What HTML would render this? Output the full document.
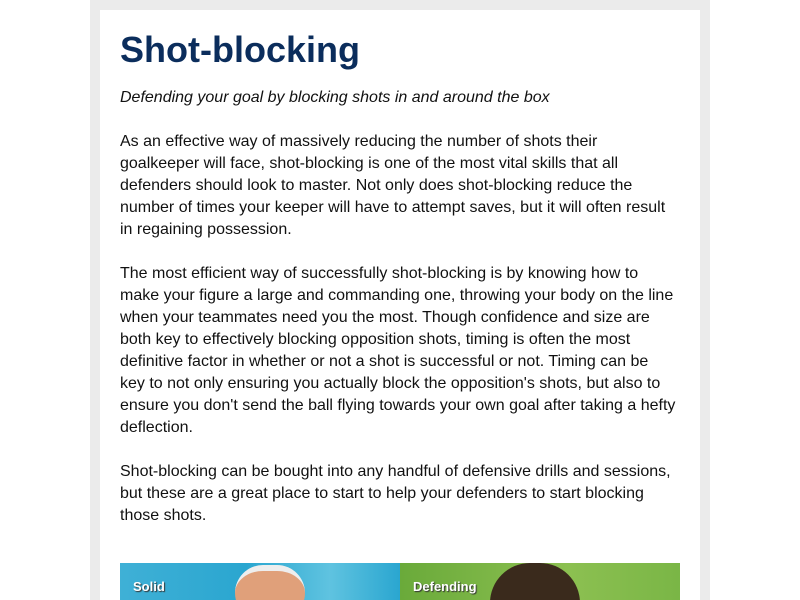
<!DOCTYPE html>
<html><head><meta charset="utf-8"><style>
body{margin:0;width:800px;height:600px;background:#fff;overflow:hidden;font-family:"Liberation Sans",Arial,sans-serif}
.frame{position:absolute;left:90px;top:0;width:620px;height:600px;background:#ebebeb}
.card{position:absolute;left:100px;top:10px;width:600px;height:590px;background:#fff}
h1{position:absolute;left:20px;top:19px;margin:0;font-size:36px;font-weight:bold;color:#0b2d5c;line-height:42px}
.sub{position:absolute;left:20px;top:77px;margin:0;font-size:16px;font-style:italic;color:#111;line-height:22px}
p.b{position:absolute;left:20px;width:556px;margin:0;font-size:16px;line-height:22px;color:#111}
.img{position:absolute;top:553px;height:37px;width:280px;overflow:hidden}
.img span{position:absolute;left:13px;top:16px;color:#fff;font-weight:bold;font-size:13px;text-shadow:1px 1px 1px #333}
</style></head><body>
<div class="frame"></div>
<div class="card">
<h1>Shot-blocking</h1>
<p class="sub">Defending your goal by blocking shots in and around the box</p>
<p class="b" style="top:121px">As an effective way of massively reducing the number of shots their goalkeeper will face, shot-blocking is one of the most vital skills that all defenders should look to master. Not only does shot-blocking reduce the number of times your keeper will have to attempt saves, but it will often result in regaining possession.</p>
<p class="b" style="top:253px">The most efficient way of successfully shot-blocking is by knowing how to make your figure a large and commanding one, throwing your body on the line when your teammates need you the most. Though confidence and size are both key to effectively blocking opposition shots, timing is often the most definitive factor in whether or not a shot is successful or not. Timing can be key to not only ensuring you actually block the opposition's shots, but also to ensure you don't send the ball flying towards your own goal after taking a hefty deflection.</p>
<p class="b" style="top:451px">Shot-blocking can be bought into any handful of defensive drills and sessions, but these are a great place to start to help your defenders to start blocking those shots.</p>
<div class="img" style="left:20px;background:linear-gradient(90deg,#3fb0d6,#2aa6d0 45%,#5fc3e0 75%,#2aa6d0)">
<div style="position:absolute;left:115px;top:2px;width:70px;height:50px;border-radius:35px;background:#e0a07a;border-top:6px solid #eee"></div>
<span>Solid</span></div>
<div class="img" style="left:300px;background:linear-gradient(90deg,#6aaa3a,#8cc051 60%,#7ab646)">
<div style="position:absolute;left:90px;top:0;width:90px;height:50px;border-radius:40px 40px 0 0;background:#3a2a1c"></div>
<span>Defending</span></div>
</div>
</body></html>
